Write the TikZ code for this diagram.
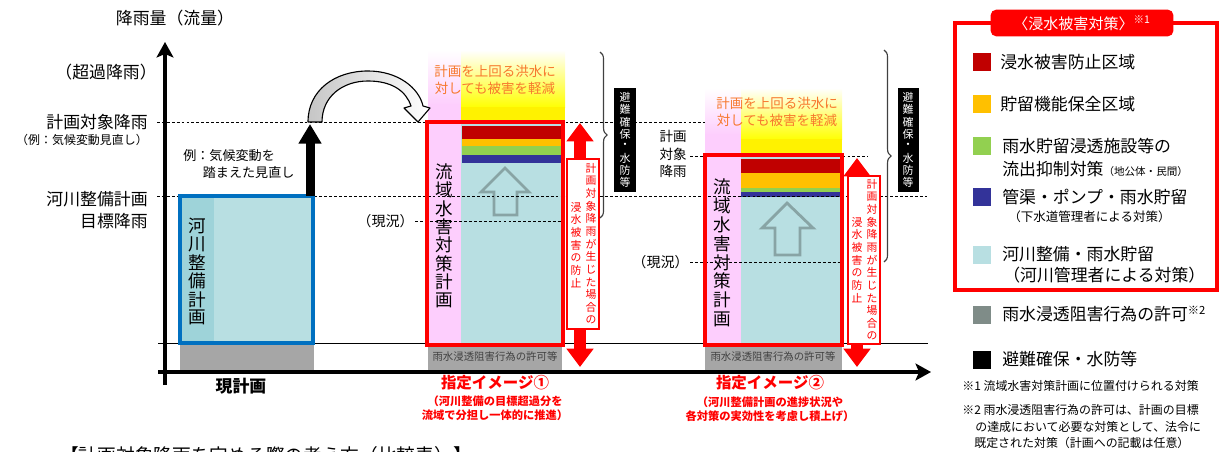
\documentclass[tikz,border=0pt]{standalone}
\usepackage{fontspec}
\setmainfont{Noto Sans CJK JP}
\usepackage{xcolor}
\usetikzlibrary{positioning,arrows.meta,decorations.pathreplacing}

\definecolor{kasen}{RGB}{184,223,226}
\definecolor{kasendark}{RGB}{158,211,217}
\definecolor{kasenblue}{RGB}{0,112,192}
\definecolor{kyokagray}{RGB}{166,166,166}
\definecolor{ryuikipink}{RGB}{253,206,253}
\definecolor{boshired}{RGB}{192,0,0}
\definecolor{choryuorange}{RGB}{255,192,0}
\definecolor{yokusei}{RGB}{146,208,80}
\definecolor{gesuinavy}{RGB}{51,51,153}
\definecolor{sogaigray}{RGB}{127,140,136}
\definecolor{keigenorange}{RGB}{247,120,45}
\definecolor{hollowgray}{RGB}{125,150,150}

\newcommand\tatetext[2]{\vbox{\offinterlineskip\foreach \tatec in {#2}{\hbox to 1.2em{\hss\vbox to #1{\vss\hbox{\tatec}\vss}\hss}}}}

\tikzset{
  lvl/.style={inner sep=0pt, font=\fontsize{12}{14}\selectfont},
  note/.style={inner sep=0pt, align=left, font=\fontsize{9.3}{12}\selectfont},
  tate/.style={inner sep=0pt, font=\fontsize{12.5}{13.2}\selectfont},
  redtate/.style={inner sep=0pt, text=red, font=\fontsize{7.7}{9}\selectfont},
  blacktate/.style={inner sep=0pt, text=white, font=\fontsize{7.8}{8.6}\selectfont},
  keigen/.style={inner sep=0pt, align=center, text=keigenorange, font=\fontsize{9.6}{11.6}\selectfont},
  kyoka/.style={inner sep=0pt, text=black!75, font=\fontsize{7.4}{9}\selectfont},
  shitei/.style={inner sep=0pt, text=red, font=\bfseries\fontsize{11}{13}\selectfont},
  shiteisub/.style={inner sep=0pt, align=center, text=red, font=\bfseries\fontsize{8}{10}\selectfont},
  guide/.style={line width=0.6pt, dash pattern=on 2pt off 1.5pt},
  axis/.style={line width=2.2pt, -{Stealth[length=11pt, width=12pt, inset=2.5pt]}},
  redframe/.style={draw=red, line width=2.2pt},
  redarrow/.style={red, line width=8.5pt, {Triangle[length=13pt, width=18.5pt]}-{Triangle[length=13pt, width=18.5pt]}},
  uparrow/.style={line width=6.4pt, -{Triangle[length=14pt, width=15.6pt]}},
  hollowarrow/.style={draw=hollowgray, line width=2pt, draw opacity=0.8, line join=miter},
  legsq/.style={inner sep=0pt, minimum width=13pt, minimum height=13.5pt},
  legtext/.style={anchor=west, inner sep=0pt, font=\fontsize{12}{14}\selectfont},
  legsmall/.style={anchor=west, inner sep=0pt, font=\fontsize{8.9}{11}\selectfont},
  fnote/.style={anchor=west, inner sep=0pt, font=\fontsize{8.5}{10}\selectfont},
  blackband/.style={fill=black},
  bracer/.style={draw=black!75, line width=0.8pt, decorate, decoration={brace, amplitude=5pt}}
}

\begin{document}
\begin{tikzpicture}[x=0.025cm, y=-0.025cm]
\fill[white] (0,0) rectangle (1220,452);
\useasboundingbox (0,0) rectangle (1220,452);

\fill[kasen] (180,196) rectangle (313,343);
\fill[kasendark] (180,196) rectangle (214,343);
\fill[kyokagray] (180,343) rectangle (314,371);

\shade[top color=white, bottom color=ryuikipink] (428,50) rectangle (461,105);
\fill[ryuikipink] (428,104) rectangle (461,343);
\shade[top color=white, bottom color=yellow] (461,50) rectangle (565,108);
\fill[yellow] (461,107) rectangle (565,122);
\fill[kasen] (461,122) rectangle (563,343);
\fill[boshired] (462,126) rectangle (561,139);
\fill[choryuorange] (462,139) rectangle (561,146);
\fill[yokusei] (462,146) rectangle (561,155);
\fill[gesuinavy] (462,155) rectangle (561,163);
\draw[hollowarrow] (505,168) -- (529,192) -- (517,192) -- (517,215) -- (494,215) -- (494,192) -- (481,192) -- cycle;
\fill[kyokagray] (428,345) rectangle (562,371);

\shade[top color=white, bottom color=ryuikipink] (705,88) rectangle (741,135);
\fill[ryuikipink] (705,134) rectangle (741,343);
\shade[top color=white, bottom color=yellow] (741,88) rectangle (842,140);
\fill[yellow] (741,139) rectangle (842,155);
\fill[kasen] (741,155) rectangle (840,343);
\fill[boshired] (741,159) rectangle (840,173);
\fill[choryuorange] (741,173) rectangle (840,188);
\fill[yokusei] (741,188) rectangle (840,192);
\fill[gesuinavy] (741,192) rectangle (840,197);
\draw[hollowarrow] (787,203) -- (813,228) -- (800,228) -- (800,255) -- (775,255) -- (775,228) -- (762,228) -- cycle;
\fill[kyokagray] (705,345) rectangle (842,371);

\draw[line width=0.7pt] (158,343) -- (928,343);
\draw[guide] (157,122) -- (705,122);
\draw[guide] (157,196) -- (927,196);
\draw[guide] (415,221) -- (565,221);
\draw[guide] (690,156) -- (868,156);
\draw[guide] (690,262) -- (842,262);

\draw[kasenblue, line width=2.2pt] (180,196) rectangle (313,343);
\draw[redframe] (427,122) rectangle (563,345);
\draw[redframe] (705,155) rectangle (842,345);

\coordinate (axbot) at (165,385);
\coordinate (axtop) at (165,42);
\coordinate (axleft) at (158,372);
\coordinate (axright) at (931,372);
\draw[axis] (axbot) -- (axtop);
\draw[axis] (axleft) -- (axright);

\coordinate (minaoshi0) at (310,196);
\coordinate (minaoshi1) at (310,124);
\draw[uparrow] (minaoshi0) -- (minaoshi1);

\shadedraw[left color=gray!45, right color=white, line width=0.8pt, line join=round]
  (308,122) .. controls (308,90) and (335,71) .. (368,71)
  .. controls (398,71) and (419,88) .. (423,106) -- (430,108) -- (418,122) -- (404,108) -- (411,106)
  .. controls (406,91) and (392,81) .. (368,81)
  .. controls (342,81) and (322,97) .. (322,122) -- cycle;

\coordinate (boshi1top) at (580,123);
\coordinate (boshi1bot) at (580,367);
\draw[redarrow] (boshi1top) -- (boshi1bot);
\filldraw[fill=white, draw=red, line width=0.8pt] (567,159) rectangle (599,329);
\node[redtate] (boshi1a) at (591,244) {\tatetext{9pt}{計,画,対,象,降,雨,が,生,じ,た,場,合,の}};
\node[redtate] (boshi1b) at (576,245) {\tatetext{9pt}{浸,水,被,害,の,防,止}};

\coordinate (boshi2top) at (857,158);
\coordinate (boshi2bot) at (857,367);
\draw[redarrow] (boshi2top) -- (boshi2bot);
\filldraw[fill=white, draw=red, line width=0.8pt] (848,176) rectangle (880,344);
\node[redtate] (boshi2a) at (872,260) {\tatetext{9pt}{計,画,対,象,降,雨,が,生,じ,た,場,合,の}};
\node[redtate] (boshi2b) at (857,260) {\tatetext{9pt}{浸,水,被,害,の,防,止}};

\draw[bracer] (600,52) -- (600,218);
\draw[bracer] (884,50) -- (884,262);
\fill[blackband] (614,88) rectangle (636,192);
\node[blacktate] (hinan1) at (625,140) {\tatetext{8.6pt}{避,難,確,保,・,水,防,等}};
\fill[blackband] (898,88) rectangle (919,192);
\node[blacktate] (hinan2) at (908,140) {\tatetext{8.6pt}{避,難,確,保,・,水,防,等}};

\node[lvl] (yaxislbl) at (175,18) {降雨量（流量）};
\node[lvl, anchor=east] (chokalbl) at (157,72) {（超過降雨）};
\node[lvl, anchor=east] (taishoulbl) at (148,122) {計画対象降雨};
\node[inner sep=0pt, anchor=east, font=\fontsize{8.5}{10}\selectfont] (reilbl) at (148,140) {（例：気候変動見直し）};
\node[lvl, anchor=east] (seibilbl) at (148,199) {河川整備計画};
\node[lvl, anchor=east] (mokuhyolbl) at (148,221) {目標降雨};
\node[note, anchor=north west] (minaoshilbl) at (183,149) {例：気候変動を\\\hspace*{1.5em}踏まえた見直し};

\node[tate] (genplan) at (197,272) {\tatetext{13pt}{河,川,整,備,計,画}};
\node[inner sep=0pt, font=\bfseries\fontsize{12}{14}\selectfont] (genlbl) at (241,386) {現計画};

\node[keigen] (keigen1) at (495,80) {計画を上回る洪水に\\対しても被害を軽減};
\node[tate] (ryuiki1) at (444,236) {\tatetext{13pt}{流,域,水,害,対,策,計,画}};
\node[kyoka] (kyoka1) at (495,357) {雨水浸透阻害行為の許可等};
\node[lvl, anchor=east, font=\fontsize{10}{12}\selectfont] (genkyo1) at (414,221) {（現況）};
\node[shitei] (shitei1) at (495,383) {指定イメージ①};
\node[shiteisub] (shitei1sub) at (495,408) {（河川整備の目標超過分を\\流域で分担し一体的に推進）};

\node[keigen] (keigen2) at (777,112) {計画を上回る洪水に\\対しても被害を軽減};
\node[tate] (ryuiki2) at (722,253) {\tatetext{13.4pt}{流,域,水,害,対,策,計,画}};
\node[kyoka] (kyoka2) at (773,357) {雨水浸透阻害行為の許可等};
\node[inner sep=0pt, align=center, font=\fontsize{9.6}{12.2}\selectfont] (taishou2) at (673,154) {計画\\対象\\降雨};
\node[lvl, anchor=east, font=\fontsize{10}{12}\selectfont] (genkyo2) at (689,262) {（現況）};
\node[shitei] (shitei2) at (770,383) {指定イメージ②};
\node[shiteisub] (shitei2sub) at (770,409) {（河川整備計画の進捗状況や\\各対策の実効性を考慮し積上げ）};

\draw[red, line width=2.2pt] (955,23) rectangle (1217,290);
\node[fill=red, rounded corners=4pt, text=white, minimum width=130pt, minimum height=19pt, inner sep=0pt, font=\fontsize{10.7}{12}\selectfont] (legtitle) at (1082,23) {〈浸水被害対策〉\textsuperscript{※1}};

\node[legsq, fill=boshired] (sq1) at (982,62) {};
\node[legtext] (leg1) at (1000,62) {浸水被害防止区域};
\node[legsq, fill=choryuorange] (sq2) at (982,104) {};
\node[legtext] (leg2) at (1000,104) {貯留機能保全区域};
\node[legsq, fill=yokusei] (sq3) at (982,146) {};
\node[legtext] (leg3) at (1002,146) {雨水貯留浸透施設等の};
\node[legtext] (leg3b) at (1002,169) {流出抑制対策{\fontsize{7.5}{9}\selectfont （地公体・民間）}};
\node[legsq, fill=gesuinavy] (sq4) at (982,197) {};
\node[legtext] (leg4) at (1002,197) {管渠・ポンプ・雨水貯留};
\node[legsmall] (leg4b) at (1008,217) {（下水道管理者による対策）};
\node[legsq, fill=kasen] (sq5) at (982,255) {};
\node[legtext] (leg5) at (1002,254) {河川整備・雨水貯留};
\node[legtext] (leg5b) at (1003,275) {（河川管理者による対策）};
\node[legsq, fill=sogaigray] (sq6) at (982,315) {};
\node[legtext] (leg6) at (1002,314) {雨水浸透阻害行為の許可\textsuperscript{※2}};
\node[legsq, fill=black] (sq7) at (982,360) {};
\node[legtext] (leg7) at (1002,359) {避難確保・水防等};

\node[fnote] (fn1) at (962,386) {※1 流域水害対策計画に位置付けられる対策};
\node[fnote] (fn2) at (962,410) {※2 雨水浸透阻害行為の許可は、計画の目標};
\node[fnote] (fn2b) at (975,427) {の達成において必要な対策として、法令に};
\node[fnote] (fn2c) at (974,443) {既定された対策（計画への記載は任意）};

\node[anchor=west, inner sep=0pt, font=\fontsize{13.3}{15}\selectfont] (hikaku) at (60,455) {【計画対象降雨を定める際の考え方（比較表）】};
\end{tikzpicture}
\end{document}
